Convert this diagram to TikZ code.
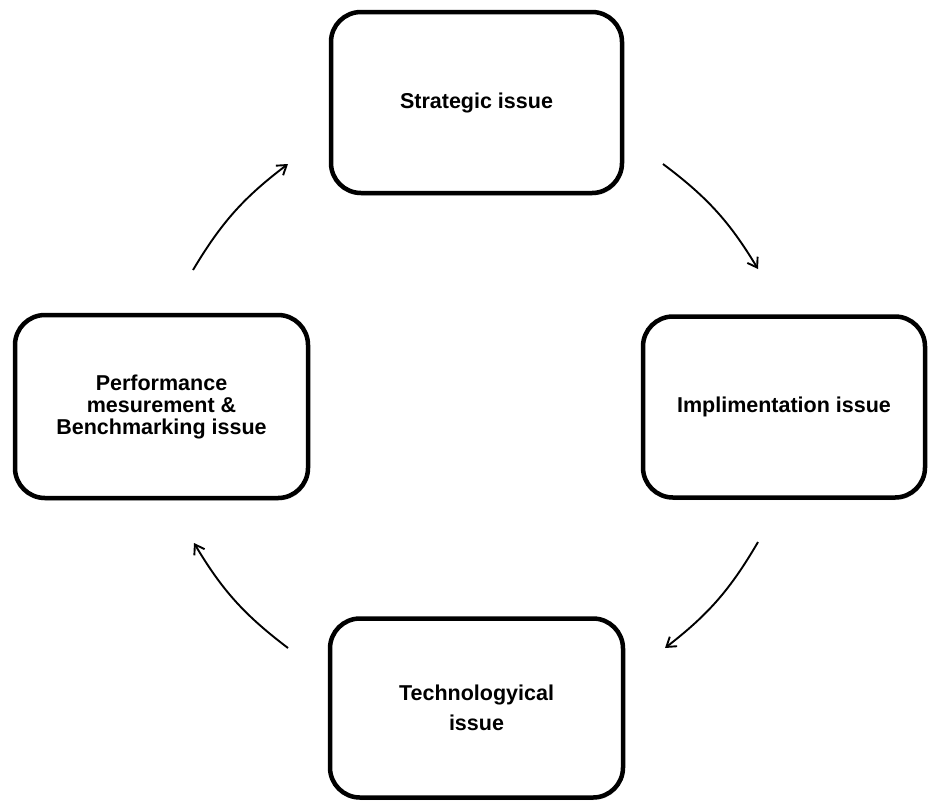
\documentclass[tikz,border=0pt]{standalone}
\usepackage{fontspec}
\setmainfont{Liberation Sans}
\usetikzlibrary{arrows.meta,shadows}
\begin{document}
\begin{tikzpicture}[x=1pt,y=-1pt,
  issuebox/.style={draw=black, line width=4.5pt, rounded corners=30pt, fill=white,
    align=center, font=\fontsize{21.5}{22}\selectfont\bfseries, inner sep=0pt,
    drop shadow={opacity=0.25, shadow xshift=1pt, shadow yshift=-2.5pt}},
  cyc/.style={line width=1.9pt, -{Straight Barb[length=9pt,width=12pt,line width=1.9pt]}, bend left=11}]
\useasboundingbox (0,0) rectangle (928,801);
\node[issuebox, minimum width=291pt, minimum height=181pt] (strat) at (476.5,102.5) {Strategic issue};
\node[issuebox, minimum width=282pt, minimum height=181pt] (impl) at (784,407) {Implimentation issue};
\node[issuebox, minimum width=293pt, minimum height=183pt] (perf) at (161.5,406.5) {Performance\\mesurement \&\\Benchmarking issue};
\node[issuebox, minimum width=293pt, minimum height=179pt] (tech) at (476.5,708) {Technologyical\\[8pt]issue};
\coordinate (a1) at (663,164);
\coordinate (a2) at (758,269);
\coordinate (b1) at (758,542);
\coordinate (b2) at (665,648);
\coordinate (c1) at (288,648);
\coordinate (c2) at (194,543);
\coordinate (d1) at (193,270);
\coordinate (d2) at (288,164);
\draw[cyc] (a1) to (a2);
\draw[cyc] (b1) to (b2);
\draw[cyc] (c1) to (c2);
\draw[cyc] (d1) to (d2);
\end{tikzpicture}
\end{document}
